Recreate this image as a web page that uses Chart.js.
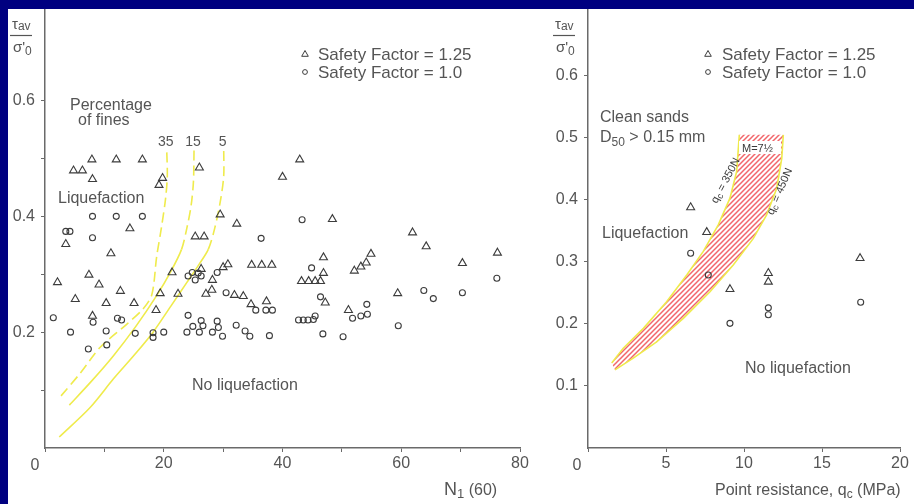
<!DOCTYPE html>
<html>
<head>
<meta charset="utf-8">
<title>Liquefaction charts</title>
<script src="https://cdn.jsdelivr.net/npm/chart.js@4.4.1/dist/chart.umd.min.js"></script>
<style>
  html, body { margin: 0; padding: 0; }
  body { width: 914px; height: 504px; background: #000080; position: relative; overflow: hidden; }
  .sheet { position: absolute; left: 8px; top: 9px; width: 906px; height: 495px; background: #fff; }
  canvas { position: absolute; top: 9px; }
  #leftChart { left: 8px; }
  #rightChart { left: 545px; }
</style>
</head>
<body>
<div class="sheet"></div>
<canvas id="leftChart" width="537" height="495"></canvas>
<canvas id="rightChart" width="369" height="495"></canvas>
<script>
// ---------- data: left panel, N1(60) ----------
const SERIES_NAMES = ['Safety Factor = 1.25', 'Safety Factor = 1.0'];

const N_TICKS = [0, 10, 20, 30, 40, 50, 60, 70, 80];
const N_TICK_LABELS = ['', '', '20', '', '40', '', '60', '', '80'];
const LEFT_RATIO_TICKS = [0.1, 0.2, 0.3, 0.4, 0.5, 0.6];
const LEFT_RATIO_LABELS = ['', '0.2', '', '0.4', '', '0.6'];

const sptSf125 = [
  [7.9, 0.498], [12.0, 0.498], [16.4, 0.498], [4.8, 0.479], [6.3, 0.479], [8.0, 0.464],
  [19.8, 0.466], [19.2, 0.454], [26.0, 0.484], [29.5, 0.403], [14.3, 0.379], [32.3, 0.387],
  [25.3, 0.365], [26.8, 0.365], [3.5, 0.352], [40.0, 0.468], [42.9, 0.498],
  [11.1, 0.336], [2.1, 0.286], [7.4, 0.299], [9.1, 0.282], [5.1, 0.257], [12.7, 0.271],
  [10.3, 0.25], [15.0, 0.25], [8.0, 0.228], [18.7, 0.238], [19.4, 0.267], [22.4, 0.266],
  [21.4, 0.303], [26.3, 0.309], [28.2, 0.29], [28.1, 0.273], [27.1, 0.266], [30.0, 0.312],
  [30.8, 0.317], [31.9, 0.264], [33.4, 0.262], [34.7, 0.248], [34.8, 0.316], [36.5, 0.316],
  [38.2, 0.316], [37.3, 0.253], [43.2, 0.288], [44.4, 0.288], [45.5, 0.288], [46.4, 0.288],
  [46.9, 0.329], [46.9, 0.302], [47.2, 0.251], [48.4, 0.395], [51.1, 0.238], [52.1, 0.306],
  [53.2, 0.313], [54.1, 0.32], [54.9, 0.335], [59.4, 0.267], [61.9, 0.372], [64.2, 0.348],
  [70.3, 0.319], [76.2, 0.337]
];
const sptSf100 = [
  [8.0, 0.40], [12.0, 0.40], [16.4, 0.40], [3.5, 0.374], [4.2, 0.374], [8.0, 0.363],
  [36.4, 0.362], [43.3, 0.394], [1.4, 0.225], [4.3, 0.2], [7.3, 0.171], [8.1, 0.217],
  [10.3, 0.202], [10.4, 0.178], [12.2, 0.224], [12.9, 0.221], [15.2, 0.198], [18.2, 0.199],
  [18.2, 0.191], [20.0, 0.2], [24.1, 0.229], [23.9, 0.2], [24.9, 0.21], [26.0, 0.2],
  [26.3, 0.22], [26.6, 0.211], [28.2, 0.2], [29.0, 0.219], [29.2, 0.208], [29.9, 0.193],
  [32.2, 0.212], [33.7, 0.202], [34.5, 0.193], [37.8, 0.194], [24.1, 0.297], [24.8, 0.303],
  [25.3, 0.29], [25.8, 0.302], [26.3, 0.297], [29.0, 0.303], [30.5, 0.268], [35.5, 0.238],
  [37.2, 0.238], [38.3, 0.238], [44.9, 0.311], [42.7, 0.221], [43.5, 0.221], [44.3, 0.221],
  [45.2, 0.222], [45.5, 0.228], [46.4, 0.261], [46.8, 0.197], [50.2, 0.192], [51.8, 0.224],
  [53.2, 0.228], [54.3, 0.231], [54.2, 0.248], [59.5, 0.211], [63.8, 0.272], [65.4, 0.258],
  [70.3, 0.268], [76.1, 0.293]
];

// percentage of fines boundary curves
const FINES_LABELS = ['35', '15', '5'];
const fines35 = [[2.7, 0.09], [6.0, 0.13], [9.3, 0.174], [13.8, 0.214], [16.5, 0.24], [18.0, 0.265],
  [18.8, 0.33], [19.6, 0.38], [20.3, 0.43], [20.6, 0.47], [20.5, 0.515]];
const fines15 = [[4.1, 0.074], [7.8, 0.115], [11.5, 0.159], [15.3, 0.21], [18.8, 0.263], [21.2, 0.305],
  [23.0, 0.343], [23.9, 0.38], [24.6, 0.418], [25.0, 0.46], [25.1, 0.515]];
const fines5 = [[2.4, 0.019], [7.6, 0.07], [11.5, 0.119], [15.0, 0.16], [18.2, 0.2], [21.2, 0.245],
  [23.9, 0.286], [26.0, 0.318], [27.5, 0.343], [28.6, 0.38], [29.6, 0.43], [30.1, 0.47], [30.1, 0.515]];

// ---------- data: right panel, qc ----------
const QC_TICKS = [0, 5, 10, 15, 20];
const QC_TICK_LABELS = ['', '5', '10', '15', '20'];
const RIGHT_RATIO_TICKS = [0.1, 0.2, 0.3, 0.4, 0.5, 0.6];
const RIGHT_RATIO_LABELS = ['0.1', '0.2', '0.3', '0.4', '0.5', '0.6'];

const cptSf125 = [[6.58, 0.388], [7.61, 0.348], [9.10, 0.256], [11.56, 0.282], [11.56, 0.268], [17.44, 0.306]];
const cptSf100 = [[6.58, 0.314], [7.71, 0.279], [9.10, 0.201], [11.56, 0.226], [11.56, 0.215], [17.48, 0.235]];

const qc350N = [[1.52, 0.137], [2.26, 0.161], [3.55, 0.193], [5.04, 0.236], [6.33, 0.279], [7.39, 0.317],
  [8.35, 0.36], [9.10, 0.403], [9.53, 0.446], [9.70, 0.505]];
const qc450N = [[1.73, 0.126], [2.90, 0.145], [4.40, 0.171], [6.11, 0.209], [7.82, 0.252], [9.31, 0.295],
  [10.60, 0.338], [11.45, 0.376], [12.10, 0.419], [12.42, 0.467], [12.52, 0.505]];

// ---------- styling ----------
const FONT = "'Liberation Sans', Arial, sans-serif";
const TEXT = '#555555';
const AXIS = '#6a6a6a';
const MARK = '#3c3c3c';
const YELLOW = '#efeb4c';

Chart.defaults.font.family = FONT;

function pts(list) { return list.map(p => ({ x: p[0], y: p[1] })); }

function hatch() {
  const c = document.createElement('canvas');
  c.width = 5; c.height = 5;
  const g = c.getContext('2d');
  g.strokeStyle = '#f2666b';
  g.lineWidth = 1.5;
  g.beginPath();
  g.moveTo(-1, 6); g.lineTo(6, -1);
  g.moveTo(-1, 1); g.lineTo(1, -1);
  g.moveTo(4, 6); g.lineTo(6, 4);
  g.stroke();
  return g.createPattern(c, 'repeat');
}

function axis(min, max, ticks, labels, isY, size) {
  return {
    type: 'linear',
    min: min,
    max: max,
    afterBuildTicks: s => { s.ticks = ticks.map(v => ({ value: v })); },
    afterFit: s => {
      if (isY) s.width = size; else s.height = size;
      s.paddingTop = 0; s.paddingBottom = 0; s.paddingLeft = 0; s.paddingRight = 0;
    },
    border: { display: true, color: AXIS, width: 1.5 },
    grid: { drawOnChartArea: false, drawTicks: true, tickLength: 4, color: AXIS, lineWidth: 1 },
    ticks: {
      color: TEXT,
      font: { family: FONT, size: 16 },
      padding: isY ? 6 : 2,
      maxRotation: 0,
      autoSkip: false,
      callback: (v, i) => labels[i]
    }
  };
}

function markers(data, style, radius) {
  return {
    data: pts(data),
    showLine: false,
    pointStyle: style,
    pointRadius: radius,
    pointHoverRadius: radius,
    pointBorderColor: MARK,
    pointBackgroundColor: 'rgba(0,0,0,0)',
    pointBorderWidth: 1.1,
    order: 0
  };
}

function curve(data, dashAll) {
  return {
    data: pts(data),
    showLine: true,
    pointRadius: 0,
    borderColor: YELLOW,
    borderWidth: 1.6,
    tension: 0.3,
    borderDash: dashAll ? [10, 5] : [],
    segment: { borderDash: ctx => (dashAll || ctx.p0.parsed.y >= 0.34) ? [10, 5] : [] },
    order: 2
  };
}

// text helpers
function label(ctx, str, x, y, size, align) {
  ctx.font = size + 'px ' + FONT;
  ctx.textAlign = align || 'left';
  ctx.textBaseline = 'alphabetic';
  ctx.fillText(str, x, y);
}
function runs(ctx, x, y, parts) {
  ctx.textAlign = 'left';
  ctx.textBaseline = 'alphabetic';
  for (const [str, size, dy] of parts) {
    ctx.font = size + 'px ' + FONT;
    ctx.fillText(str, x, y + dy);
    x += ctx.measureText(str).width;
  }
  return x;
}
function ratioTitle(ctx, x) {
  ctx.fillStyle = TEXT;
  runs(ctx, x, 20, [['τ', 15, 0], ['av', 12, 1]]);
  ctx.strokeStyle = TEXT;
  ctx.lineWidth = 1.2;
  ctx.beginPath(); ctx.moveTo(x - 2, 26.5); ctx.lineTo(x + 20, 26.5); ctx.stroke();
  runs(ctx, x + 1, 43, [["σ'", 15, 0], ['0', 12, 3]]);
}
function legend(ctx, mx, tx) {
  ctx.strokeStyle = MARK;
  ctx.lineWidth = 1;
  ctx.beginPath();
  ctx.moveTo(mx, 41.5); ctx.lineTo(mx + 3.3, 47.3); ctx.lineTo(mx - 3.3, 47.3); ctx.closePath();
  ctx.stroke();
  ctx.beginPath(); ctx.arc(mx, 63, 2.4, 0, Math.PI * 2); ctx.stroke();
  ctx.fillStyle = TEXT;
  label(ctx, SERIES_NAMES[0], tx, 51, 17);
  label(ctx, SERIES_NAMES[1], tx, 69, 17);
}

const leftDecor = {
  id: 'leftDecor',
  afterDraw(chart) {
    const ctx = chart.ctx;
    const xs = chart.scales.x;
    ctx.save();
    ratioTitle(ctx, 4);
    legend(ctx, 297, 310);
    ctx.fillStyle = TEXT;
    label(ctx, 'Percentage', 62, 101, 16);
    label(ctx, 'of fines', 70, 116, 16);
    [fines35, fines15, fines5].forEach((c, i) => {
      label(ctx, FINES_LABELS[i], xs.getPixelForValue(c[c.length - 1][0]) - 1, 137, 14, 'center');
    });
    label(ctx, 'Liquefaction', 50, 194, 16);
    label(ctx, 'No liquefaction', 184, 381, 16);
    label(ctx, '0', 27, 461, 16, 'center');
    runs(ctx, 436, 486, [['N', 18, 0], ['1', 13, 3], [' (60)', 16, 0]]);
    ctx.restore();
  }
};

const rightDecor = {
  id: 'rightDecor',
  afterDraw(chart) {
    const ctx = chart.ctx;
    ctx.save();
    ratioTitle(ctx, 10);
    legend(ctx, 163, 177);
    ctx.fillStyle = TEXT;
    label(ctx, 'Clean sands', 55, 113, 16);
    runs(ctx, 55, 133, [['D', 16, 0], ['50', 12, 4], [' > 0.15 mm', 16, 0]]);
    label(ctx, 'Liquefaction', 57, 229, 16);
    label(ctx, 'No liquefaction', 200, 364, 16);
    label(ctx, '0', 32, 461, 16, 'center');
    runs(ctx, 170, 486, [['Point resistance, q', 16, 0], ['c', 12, 3], [' (MPa)', 16, 0]]);
    // magnitude tag on the band
    ctx.fillStyle = '#fff';
    ctx.fillRect(194, 132, 42, 13);
    ctx.fillStyle = '#3a3a3a';
    label(ctx, 'M=7½', 197, 143, 11);
    // rotated boundary tags
    [[180, 171, -62, ' = 350N'], [234, 182, -67, ' = 450N']].forEach(([cx, cy, deg, rest]) => {
      ctx.save();
      ctx.translate(cx, cy);
      ctx.rotate(deg * Math.PI / 180);
      ctx.fillStyle = '#3a3a3a';
      runs(ctx, -25, 4, [['q', 11, 0], ['c', 9, 2], [rest, 11, 0]]);
      ctx.restore();
    });
    ctx.restore();
  }
};

const baseOptions = (padRight) => ({
  responsive: false,
  animation: false,
  layout: { padding: { left: 0, top: 0, right: padRight, bottom: 0 }, autoPadding: false },
  plugins: { legend: { display: false }, tooltip: { enabled: false } },
  events: []
});

// ---------- left chart ----------
new Chart(document.getElementById('leftChart'), {
  type: 'scatter',
  data: {
    datasets: [
      Object.assign({ label: SERIES_NAMES[0] }, markers(sptSf125, 'triangle', 4.6)),
      Object.assign({ label: SERIES_NAMES[1] }, markers(sptSf100, 'circle', 3)),
      Object.assign({ label: FINES_LABELS[0] }, curve(fines35, true)),
      Object.assign({ label: FINES_LABELS[1] }, curve(fines15, false)),
      Object.assign({ label: FINES_LABELS[2] }, curve(fines5, false))
    ]
  },
  options: Object.assign(baseOptions(25), {
    scales: {
      x: axis(0, 80, N_TICKS, N_TICK_LABELS, false, 56),
      y: axis(0, 0.758, LEFT_RATIO_TICKS, LEFT_RATIO_LABELS, true, 37)
    }
  }),
  plugins: [leftDecor]
});

// ---------- right chart ----------
const bandShape = qc350N.concat(qc450N.slice().reverse());

new Chart(document.getElementById('rightChart'), {
  type: 'scatter',
  data: {
    datasets: [
      Object.assign({ label: SERIES_NAMES[0] }, markers(cptSf125, 'triangle', 4.6)),
      Object.assign({ label: SERIES_NAMES[1] }, markers(cptSf100, 'circle', 3)),
      {
        label: 'qc = 350N', data: pts(qc350N), showLine: true, pointRadius: 0,
        borderColor: YELLOW, borderWidth: 1.6, tension: 0, order: 2
      },
      {
        label: 'qc = 450N', data: pts(qc450N), showLine: true, pointRadius: 0,
        borderColor: YELLOW, borderWidth: 1.6, tension: 0, order: 2
      },
      {
        label: 'M=7 1/2', data: pts(bandShape), showLine: true, pointRadius: 0,
        borderColor: 'rgba(0,0,0,0)', borderWidth: 1, tension: 0,
        fill: 'shape', backgroundColor: hatch(), order: 3
      }
    ]
  },
  options: Object.assign(baseOptions(14), {
    scales: {
      x: axis(0, 20, QC_TICKS, QC_TICK_LABELS, false, 56),
      y: axis(0, 0.708, RIGHT_RATIO_TICKS, RIGHT_RATIO_LABELS, true, 43)
    }
  }),
  plugins: [rightDecor]
});
</script>
</body>
</html>
